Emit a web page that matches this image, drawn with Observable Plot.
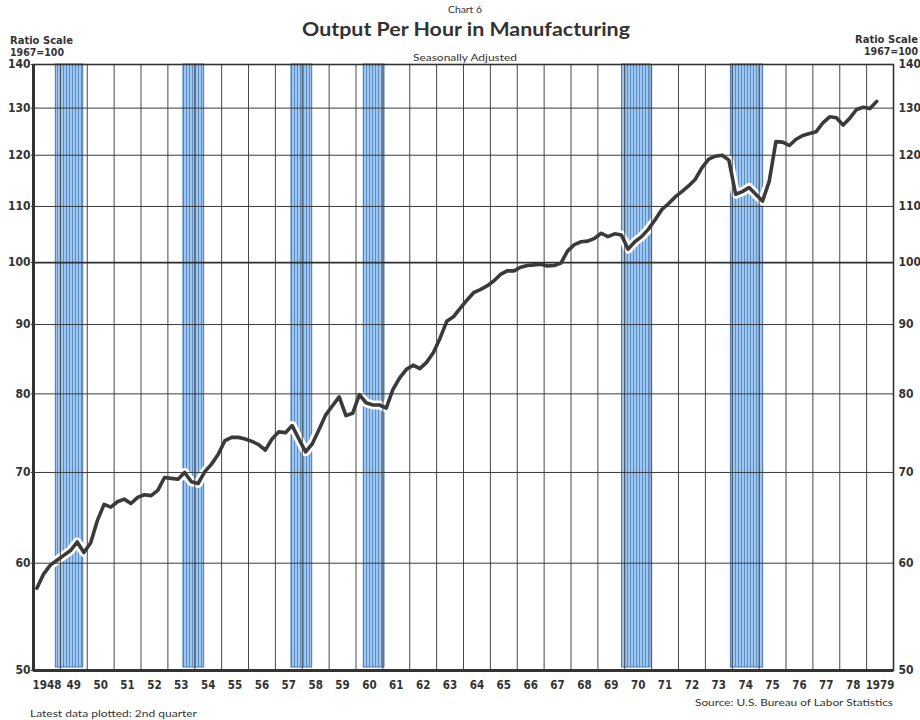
<!DOCTYPE html>
<html>
<head>
<meta charset="utf-8">
<script src="https://cdn.jsdelivr.net/npm/d3@7"></script>
<script src="https://cdn.jsdelivr.net/npm/@observablehq/plot@0.6"></script>
<style>
  body { margin: 0; background: #ffffff; }
  #wrap { position: relative; width: 920px; height: 720px; overflow: hidden; }
  #wrap svg { position: absolute; left: 0; top: 0; }
</style>
</head>
<body>
<div id="wrap"></div>
<script>
// ---- data ----
const startYear = 1948;
const endYear = 1980;
// Output per hour in manufacturing, 1967=100, quarterly 1948 Q1 .. 1979 Q2
const productivity = [
  57.5, 58.9, 59.8, 60.3,   // 1948
  60.8, 61.3, 62.2, 61.1,   // 1949
  62.1, 64.5, 66.3, 66.0,   // 1950
  66.6, 66.9, 66.4, 67.1,   // 1951
  67.4, 67.3, 67.9, 69.4,   // 1952
  69.3, 69.2, 70.0, 68.9,   // 1953
  68.7, 70.1, 71.0, 72.2,   // 1954
  73.9, 74.3, 74.3, 74.1,   // 1955
  73.8, 73.4, 72.7, 74.1,   // 1956
  75.0, 74.9, 75.8, 74.1,   // 1957
  72.5, 73.5, 75.3, 77.2,   // 1958
  78.4, 79.6, 77.1, 77.4,   // 1959
  79.9, 78.8, 78.5, 78.5,   // 1960
  78.1, 80.6, 82.2, 83.4,   // 1961
  84.0, 83.5, 84.4, 85.8,   // 1962
  87.9, 90.5, 91.2, 92.5,   // 1963
  93.8, 95.0, 95.5, 96.1,   // 1964
  96.9, 98.0, 98.6, 98.6,   // 1965
  99.2, 99.5, 99.6, 99.7,   // 1966
  99.4, 99.5, 99.9, 102.0,  // 1967
  103.1, 103.6, 103.7, 104.2, // 1968
  105.1, 104.5, 105.0, 104.8, // 1969
  102.3, 103.6, 104.5, 105.8, // 1970
  107.5, 109.4, 110.5, 111.8, // 1971
  112.8, 113.9, 115.2, 117.5, // 1972
  119.2, 119.8, 120.0, 119.0, // 1973
  112.3, 112.8, 113.6, 112.3, // 1974
  111.0, 114.8, 122.8, 122.7, // 1975
  122.0, 123.3, 124.1, 124.5, // 1976
  124.9, 126.8, 128.1, 127.9, // 1977
  126.3, 127.8, 129.7, 130.2, // 1978
  129.9, 131.5                // 1979
];
// Recession periods (shaded bands), in decimal years
const recessionStart = [1948.83, 1953.58, 1957.60, 1960.29, 1969.90, 1973.95];
const recessionEnd   = [1949.85, 1954.35, 1958.37, 1961.06, 1970.96, 1975.15];
// Axis labels
const yearLabels = ["1948","49","50","51","52","53","54","55","56","57","58","59","60","61","62","63",
  "64","65","66","67","68","69","70","71","72","73","74","75","76","77","78","1979"];
const yTicks = [50, 60, 70, 80, 90, 100, 110, 120, 130, 140];

// ---- derived tables ----
const series = productivity.map((v, i) => ({ t: startYear + (i + 0.5) / 4, v }));
const bands = recessionStart.map((s, i) => ({ start: s, end: recessionEnd[i] }));
const gridYears = d3.range(startYear + 1, endYear);
const labelPos = yearLabels.map((_, i) => startYear + i + 0.5);
const hGrid = yTicks.filter(v => v > 50 && v < 140 && v !== 100);

const ink = "#333333";
const tickFont = "'DejaVu Sans Condensed', 'DejaVu Sans', sans-serif";

const svg = Plot.plot({
  width: 920,
  height: 720,
  marginLeft: 33,
  marginRight: 27,
  marginTop: 64,
  marginBottom: 50,
  style: { background: "transparent", color: ink, fontFamily: tickFont },
  x: { type: "linear", domain: [startYear, endYear] },
  y: { type: "log", domain: [50, 140] },
  marks: [
    Plot.rect(bands, { x1: "start", x2: "end", fill: "url(#rstripes)", stroke: "#4476b6", strokeWidth: 1, insetBottom: 3 }),
    Plot.line(series, { x: "t", y: "v", stroke: "#ffffff", strokeWidth: 9, strokeLinejoin: "round", strokeLinecap: "round" }),
    Plot.ruleX(gridYears, { stroke: "#484848", strokeWidth: 1 }),
    Plot.ruleY(hGrid, { stroke: "#3a3a3a", strokeWidth: 1 }),
    Plot.ruleY([100], { stroke: "#2e2e2e", strokeWidth: 1.8 }),
    Plot.frame({ stroke: ink, strokeWidth: 1.6 }),
    Plot.ruleX([startYear], { stroke: ink, strokeWidth: 3 }),
    Plot.ruleY([50], { stroke: ink, strokeWidth: 3 }),
    Plot.line(series, { x: "t", y: "v", stroke: "#3a3a3a", strokeWidth: 3.6, strokeLinejoin: "round", strokeLinecap: "round" }),
    Plot.axisY({ anchor: "left", ticks: yTicks, tickFormat: d => String(d), tickSize: 2, tickPadding: 1,
      fontSize: 12, fontWeight: "bold", label: null }),
    Plot.axisY({ anchor: "right", ticks: yTicks, tickFormat: d => String(d), tickSize: 0, tickPadding: 5,
      fontSize: 12, fontWeight: "bold", label: null }),
    Plot.axisX({ ticks: labelPos, tickFormat: d => yearLabels[Math.round(d - 0.5 - startYear)],
      tickSize: 0, tickPadding: 10, fontSize: 11.5, fontWeight: "bold", label: null })
  ]
});

const S = d3.select(svg);
S.selectAll('[aria-label$="tick label"] text').attr("font-weight", "bold");

// stripe pattern for recession bands
const defs = S.insert("defs", ":first-child");
const pat = defs.append("pattern").attr("id", "rstripes")
  .attr("patternUnits", "userSpaceOnUse").attr("width", 3).attr("height", 10);
pat.append("rect").attr("width", 3).attr("height", 10).attr("fill", "#9fc6ec");
pat.append("rect").attr("width", 1).attr("height", 10).attr("fill", "#5a8fcc");

// texts
function addText(str, x, y, o) {
  const t = S.append("text").attr("x", x).attr("y", y).text(str)
    .attr("fill", o.fill || ink)
    .attr("font-family", o.family || "Lato, 'DejaVu Sans', sans-serif")
    .attr("font-size", o.size)
    .attr("font-weight", o.weight || "normal")
    .attr("text-anchor", o.anchor || "start");
  if (o.len) t.attr("textLength", o.len).attr("lengthAdjust", "spacingAndGlyphs");
  return t;
}
addText("Chart 6", 465, 13, { size: 8.5, anchor: "middle", len: 34 });
addText("Output Per Hour in Manufacturing", 466, 36, { size: 19, weight: "bold", anchor: "middle", len: 328 });
addText("Seasonally Adjusted", 465, 61, { size: 9, anchor: "middle", len: 104 });
addText("Ratio Scale", 10, 44, { size: 10, weight: "bold", family: tickFont, len: 63 });
addText("1967=100", 10, 56, { size: 10, weight: "bold", family: tickFont, len: 54 });
addText("Ratio Scale", 918, 43, { size: 10, weight: "bold", family: tickFont, anchor: "end", len: 63 });
addText("1967=100", 918, 55, { size: 10, weight: "bold", family: tickFont, anchor: "end", len: 54 });
addText("Latest data plotted: 2nd quarter", 30, 717, { size: 10, len: 167 });
addText("Source: U.S. Bureau of Labor Statistics", 893, 706, { size: 10, anchor: "end", len: 198 });

document.getElementById("wrap").appendChild(svg);
</script>
</body>
</html>
